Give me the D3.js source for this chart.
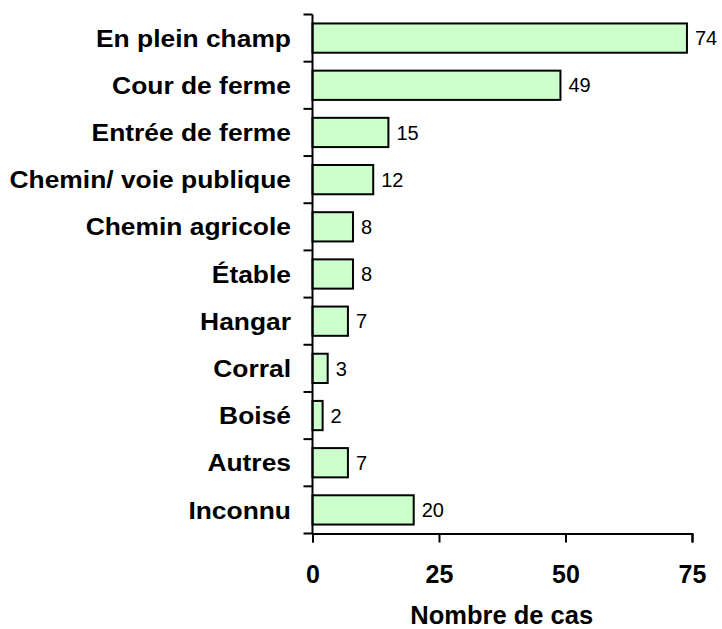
<!DOCTYPE html>
<html>
<head>
<meta charset="utf-8">
<script src="https://cdn.jsdelivr.net/npm/d3@7"></script>
<style>
  body { margin: 0; background: #fff; }
  text { font-family: "Liberation Sans", Arial, sans-serif; }
</style>
</head>
<body>
<div id="chart"></div>
<script>
const categories = [
  "En plein champ",
  "Cour de ferme",
  "Entrée de ferme",
  "Chemin/ voie publique",
  "Chemin agricole",
  "Étable",
  "Hangar",
  "Corral",
  "Boisé",
  "Autres",
  "Inconnu"
];
const counts = [74, 49, 15, 12, 8, 8, 7, 3, 2, 7, 20];
const xTicks = [0, 25, 50, 75];
const xTitle = "Nombre de cas";

const width = 722,
  height = 629;
const margin = { top: 14.5, right: 30, bottom: 96, left: 312.5 };

const svg = d3
  .select("#chart")
  .append("svg")
  .attr("width", width)
  .attr("height", height);

const x = d3
  .scaleLinear()
  .domain([0, 75])
  .range([margin.left, 692]);

const y = d3
  .scaleBand()
  .domain(categories)
  .range([margin.top, height - margin.bottom + 0.5])
  .paddingInner(0.38)
  .paddingOuter(0.19);

const plotBottom = height - margin.bottom + 0.5;

// bars
svg
  .selectAll("rect.bar")
  .data(categories)
  .join("rect")
  .attr("class", "bar")
  .attr("x", x(0))
  .attr("y", (d) => y(d))
  .attr("width", (d, i) => x(counts[i]) - x(0))
  .attr("height", y.bandwidth())
  .attr("fill", "#ccffcc")
  .attr("stroke", "#000")
  .attr("stroke-width", 2);

// value labels
svg
  .selectAll("text.val")
  .data(categories)
  .join("text")
  .attr("class", "val")
  .attr("x", (d, i) => x(counts[i]) + 8)
  .attr("y", (d) => y(d) + y.bandwidth() / 2)
  .attr("dy", "0.36em")
  .attr("font-size", 20)
  .text((d, i) => counts[i]);

// y axis: line plus boundary ticks between categories
const step = y.step();
const yEdges = d3.range(categories.length + 1).map((i) => margin.top + i * step);
svg
  .append("line")
  .attr("x1", x(0))
  .attr("x2", x(0))
  .attr("y1", margin.top)
  .attr("y2", plotBottom)
  .attr("stroke", "#000")
  .attr("stroke-width", 2);
svg
  .selectAll("line.ytick")
  .data(yEdges)
  .join("line")
  .attr("class", "ytick")
  .attr("x1", x(0) - 9)
  .attr("x2", x(0))
  .attr("y1", (d) => d)
  .attr("y2", (d) => d)
  .attr("stroke", "#000")
  .attr("stroke-width", 2);

// category labels (slightly wide, as in the original)
svg
  .selectAll("text.cat")
  .data(categories)
  .join("text")
  .attr("class", "cat")
  .attr(
    "transform",
    (d) => `translate(291,${y(d) + y.bandwidth() / 2}) scale(1.1,1)`
  )
  .attr("dy", "0.36em")
  .attr("text-anchor", "end")
  .attr("font-size", 24)
  .attr("font-weight", "bold")
  .text((d) => d);

// x axis
const xAxis = svg
  .append("g")
  .attr("transform", `translate(0,${plotBottom})`)
  .call(d3.axisBottom(x).tickValues(xTicks).tickSize(9).tickPadding(23));
xAxis.select(".domain").attr("stroke-width", 2);
xAxis.selectAll(".tick line").attr("stroke-width", 2);
xAxis
  .selectAll(".tick text")
  .attr("font-family", "Liberation Sans, Arial, sans-serif")
  .attr("font-size", 25)
  .attr("font-weight", "bold")
  .attr("fill", "#000");

// x title
svg
  .append("text")
  .attr("x", (x(0) + x(75)) / 2 - 0.5)
  .attr("y", 624)
  .attr("text-anchor", "middle")
  .attr("font-size", 25.5)
  .attr("font-weight", "bold")
  .text(xTitle);
</script>
</body>
</html>
